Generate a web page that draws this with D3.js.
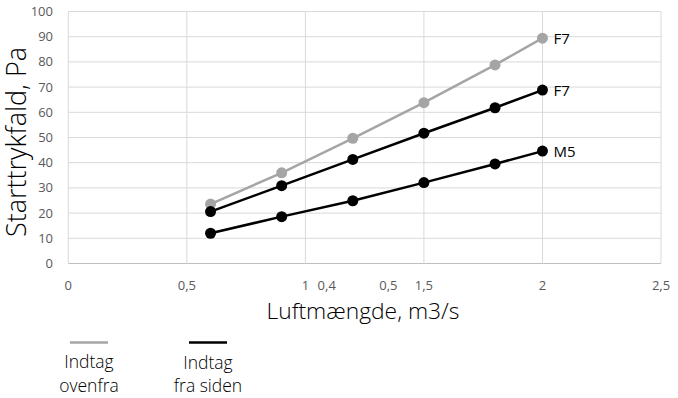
<!DOCTYPE html>
<html><head><meta charset="utf-8">
<script src="https://cdn.jsdelivr.net/npm/d3@7"></script>
<style>body{margin:0;background:#fff}svg{display:block;font-family:"Open Sans",sans-serif}</style>
</head><body><svg id="c" width="678" height="398"></svg>
<script>
const xValues = [0.6, 0.9, 1.2, 1.5, 1.8, 2.0];
const ovenfraF7 = [23.6, 36.0, 49.7, 63.8, 78.8, 89.4];
const sidenF7 = [20.6, 30.9, 41.3, 51.7, 61.8, 68.8];
const sidenM5 = [12.0, 18.6, 24.9, 32.1, 39.5, 44.6];
const seriesLabels = ["F7", "F7", "M5"];
const xTicks = [0, 0.5, 1, 1.5, 2, 2.5];
const xTickLabels = ["0", "0,5", "1", "1,5", "2", "2,5"];
const strayLabelX = [1.09, 1.35];
const strayLabels = ["0,4", "0,5"];
const yTicks = [0,10,20,30,40,50,60,70,80,90,100];
const legendNames = [["Indtag","ovenfra"],["Indtag","fra siden"]];
const colors = ["#a5a5a5", "#000000", "#000000"];

const svg = d3.select("#c");
const x = d3.scaleLinear().domain([0, 2.5]).range([68.3, 661]);
const y = d3.scaleLinear().domain([0, 100]).range([263.5, 11.5]);

function fit(sel, target) {
  const base = 20;
  sel.attr("font-size", base);
  const w = sel.node().getComputedTextLength();
  sel.attr("font-size", (base * target / w).toFixed(2));
  return base * target / w;
}

// grid
svg.append("g").selectAll("line").data(yTicks).join("line")
  .attr("x1", x(0)).attr("x2", x(2.5)).attr("y1", d=>y(d)).attr("y2", d=>y(d))
  .attr("stroke", d => d===0 ? "#bfbfbf" : "#d9d9d9").attr("stroke-width", 1);
svg.append("g").selectAll("line").data(xTicks).join("line")
  .attr("x1", d=>x(d)).attr("x2", d=>x(d)).attr("y1", y(0)).attr("y2", y(100))
  .attr("stroke", "#d9d9d9").attr("stroke-width", 1);

// y tick labels
svg.append("g").selectAll("text").data(yTicks).join("text")
  .attr("x", 53).attr("y", d=>y(d)).attr("dy", "0.35em").attr("text-anchor","end")
  .attr("font-size", 13).attr("fill", "#595959").text(d=>d);
// x tick labels
svg.append("g").selectAll("text").data(xTicks).join("text")
  .attr("x", d=>x(d)).attr("y", 290).attr("text-anchor","middle")
  .attr("font-size", 13).attr("fill", "#595959").text((d,i)=>xTickLabels[i]);
svg.append("g").selectAll("text").data(strayLabelX).join("text")
  .attr("x", d=>x(d)).attr("y", 290).attr("text-anchor","middle")
  .attr("font-size", 13).attr("fill", "#595959").text((d,i)=>strayLabels[i]);

// axis titles
const xt = svg.append("text").attr("x", 363).attr("y", 319).attr("text-anchor","middle")
  .attr("fill", "#000").attr("font-weight", 300).text("Luftmængde, m3/s");
fit(xt, 193);
const ytg = svg.append("g").attr("transform", "translate(26,142) rotate(-90)");
const yt = ytg.append("text").attr("x", 0).attr("y", 0).attr("text-anchor","middle")
  .attr("fill", "#000").attr("font-weight", 300).text("Starttrykfald, Pa");
fit(yt, 190);

// series
const series = [ovenfraF7, sidenF7, sidenM5];
const line = d3.line().x((d,i)=>x(xValues[i])).y(d=>y(d));
series.forEach((s, k) => {
  svg.append("path").datum(s).attr("d", line).attr("fill","none")
    .attr("stroke", colors[k]).attr("stroke-width", 2.5);
  svg.append("g").selectAll("circle").data(s).join("circle")
    .attr("cx", (d,i)=>x(xValues[i])).attr("cy", d=>y(d)).attr("r", 5.5)
    .attr("fill", colors[k]);
  svg.append("text").attr("x", x(xValues[xValues.length-1]) + 11).attr("y", y(s[s.length-1]))
    .attr("dy","0.36em").attr("font-size", 15).attr("fill","#000").text(seriesLabels[k]);
});

// legend
const legX = [89, 208];
const legLineY = 342.5;
const legTopY = [368, 369];
const legBotY = [392, 392];
legendNames.forEach((nm, k) => {
  svg.append("line").attr("x1", legX[k]-19).attr("x2", legX[k]+19)
    .attr("y1", legLineY).attr("y2", legLineY)
    .attr("stroke", colors[k]).attr("stroke-width", 2.5);
  const t = svg.append("text").attr("text-anchor","middle")
    .attr("font-size", 17.5).attr("font-weight", 300).attr("fill","#000");
  t.append("tspan").attr("x", legX[k]).attr("y", legTopY[k]).text(nm[0]);
  t.append("tspan").attr("x", legX[k]).attr("y", legBotY[k]).text(nm[1]);
});
</script></body></html>
